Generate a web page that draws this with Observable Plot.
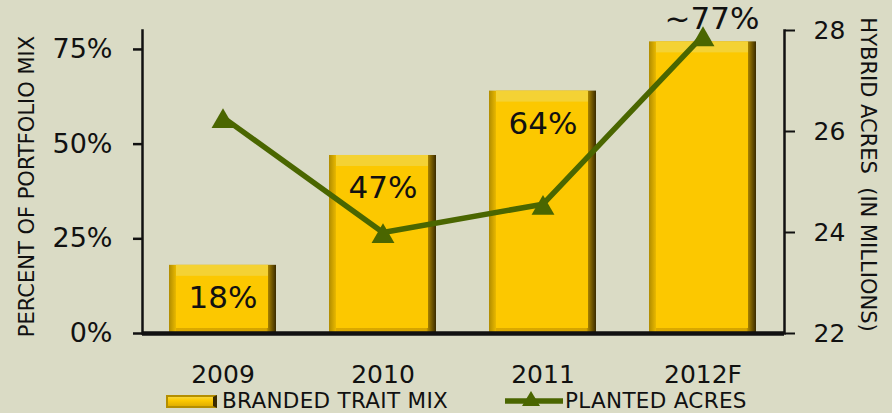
<!DOCTYPE html>
<html>
<head>
<meta charset="utf-8">
<script src="https://cdn.jsdelivr.net/npm/d3@7"></script>
<script src="https://cdn.jsdelivr.net/npm/@observablehq/plot@0.6"></script>
<style>
  html, body { margin: 0; padding: 0; background: #dadbc5; }
  #chart { position: relative; width: 892px; height: 413px; background: #dadbc5; overflow: hidden; font-family: "DejaVu Sans", Verdana, sans-serif; color: #111; }
  #legend { position: relative; height: 25px; }
  .swatch-bar { position: absolute; left: 166px; top: 7px; width: 45px; height: 9px;
    background: linear-gradient(to bottom, #f7d63a 0%, #fcc800 40%, #e0ae00 100%);
    border: 2px solid #b48e00; border-right: 4px solid #3a2b00; }
  .legend-text { position: absolute; top: 0px; font-size: 21.5px; line-height: normal; color: #111; white-space: nowrap; letter-spacing: 0.3px; }
  .swatch-line { position: absolute; left: 503px; top: 2px; }
</style>
</head>
<body>
<div id="chart"></div>
<script>
// ---- data ----
const years = ["2009", "2010", "2011", "2012F"];
const traitMix = [18, 47, 64, 77];               // percent of portfolio mix
const traitLabels = ["18%", "47%", "64%", "~77%"];
const plantedAcres = [26.28, 24.0, 24.56, 27.9]; // hybrid acres (millions)
const pctTicks = [0, 25, 50, 75];
const acreTicks = [22, 24, 26, 28];
const seriesNames = ["BRANDED TRAIT MIX", "PLANTED ACRES"];
const axisTitles = ["PERCENT OF PORTFOLIO MIX", "HYBRID ACRES\u00a0 (IN MILLIONS)"];

// ---- dual-axis mapping ----
const pctDomain = [0, 80];
const acreDomain = [22, 28];
const acreToPct = d3.scaleLinear(acreDomain, pctDomain);

const rows = years.map((year, i) => ({
  year, mix: traitMix[i], label: traitLabels[i], acres: plantedAcres[i], acresPct: acreToPct(plantedAcres[i])
}));
const insideRows = rows.slice(0, 3);
const topRows = rows.slice(3);

const green = "#4a6600";
const font = "DejaVu Sans, Verdana, sans-serif";

const svg = Plot.plot({
  width: 892,
  height: 388,
  marginLeft: 142,
  marginRight: 108,
  marginTop: 30,
  marginBottom: 55,
  style: { background: "transparent", fontFamily: font, color: "#111", overflow: "visible" },
  x: { domain: years, paddingInner: 0.33, paddingOuter: 0.165 },
  y: { domain: pctDomain },
  marks: [
    // bars: outer bevel, top bevel, face
    Plot.barY(rows, { x: "year", y: "mix", fill: "url(#goldSide)" }),
    Plot.barY(rows, { x: "year", y: "mix", fill: "#f4d234", insetLeft: 7, insetRight: 8, insetBottom: 5 }),
    Plot.barY(rows, { x: "year", y: "mix", fill: "#fcc800", insetLeft: 7, insetRight: 8, insetTop: 11, insetBottom: 5 }),
    // bar value labels
    Plot.text(insideRows, { x: "year", y: "mix", text: "label", dy: 33, fontSize: 31, fill: "#111" }),
    Plot.text(topRows, { x: "year", y: "mix", text: "label", dy: -23, dx: 9, fontSize: 31, fill: "#111" }),
    // axes
    Plot.axisY(pctTicks, { anchor: "left", tickFormat: d => d + "%", tickSize: 9, tickPadding: 21, fontSize: 27, label: null, strokeWidth: 2.5 }),
    Plot.axisY(acreTicks.map(acreToPct), { anchor: "right", tickFormat: d => acreToPct.invert(d).toFixed(0), tickSize: 10, tickPadding: 19, fontSize: 25, label: null, strokeWidth: 2 }),
    Plot.axisX({ tickSize: 0, tickPadding: 32, fontSize: 25, label: null }),
    Plot.frame({ anchor: "left", strokeWidth: 2.5, stroke: "#111" }),
    Plot.frame({ anchor: "right", strokeWidth: 2.5, stroke: "#111" }),
    Plot.ruleY([0], { strokeWidth: 4.5, stroke: "#111" }),
    // axis titles
    Plot.text([axisTitles[0]], { frameAnchor: "left", textAnchor: "middle", text: d => d, dx: -115, dy: 4.5, rotate: -90, fontSize: 21, fill: "#111" }),
    Plot.text([axisTitles[1]], { frameAnchor: "right", textAnchor: "middle", text: d => d, dx: 83, dy: -7.5, rotate: 90, fontSize: 21, fill: "#111" }),
    // planted acres line
    Plot.line(rows, { x: "year", y: "acresPct", stroke: green, strokeWidth: 5.5 }),
    Plot.dot(rows, { x: "year", y: "acresPct", symbol: "triangle", r: 8.5, fill: green, stroke: "none", dy: 4 })
  ]
});

// gradient definitions for the gold bars
const defs = d3.select(svg).insert("defs", ":first-child");
const g = defs.append("linearGradient").attr("id", "goldSide").attr("x1", 0).attr("x2", 1).attr("y1", 0).attr("y2", 0);
[["0%", "#b08c00"], ["6.5%", "#e8b800"], ["7%", "#dcaa00"], ["91%", "#d4a400"], ["93%", "#a07c00"], ["100%", "#3a2b00"]]
  .forEach(([o, c]) => g.append("stop").attr("offset", o).attr("stop-color", c));

const chart = document.getElementById("chart");
chart.appendChild(svg);

// legend below the plot
const legend = document.createElement("div");
legend.id = "legend";
legend.innerHTML = `
  <div class="swatch-bar"></div>
  <div class="legend-text" style="left:222px">${seriesNames[0]}</div>
  <svg class="swatch-line" width="62" height="20">
    <line x1="2" y1="11" x2="60" y2="11" stroke="${green}" stroke-width="5.5"/>
    <path d="M28,1 L37,16 L19,16 Z" fill="${green}"/>
  </svg>
  <div class="legend-text" style="left:565px">${seriesNames[1]}</div>`;
chart.appendChild(legend);
</script>
</body>
</html>
